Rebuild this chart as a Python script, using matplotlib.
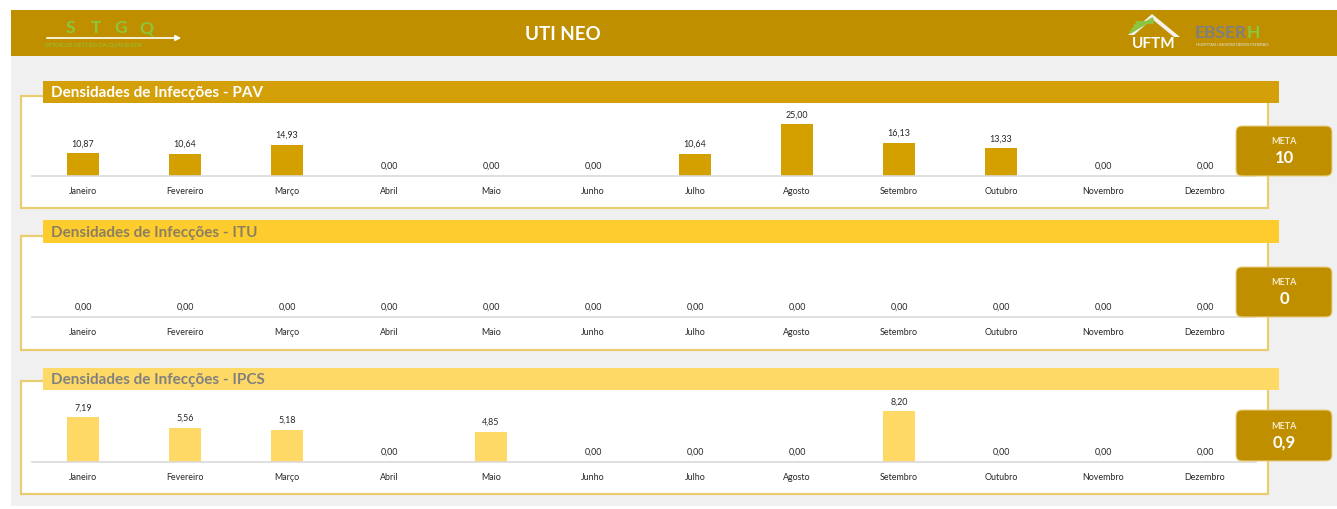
import matplotlib
matplotlib.use("Agg")
import matplotlib.pyplot as plt
from matplotlib.patches import Rectangle, FancyBboxPatch, Polygon
import numpy as np

months = ["Janeiro", "Fevereiro", "Março", "Abril", "Maio", "Junho", "Julho",
          "Agosto", "Setembro", "Outubro", "Novembro", "Dezembro"]
pav = [10.87, 10.64, 14.93, 0.00, 0.00, 0.00, 10.64, 25.00, 16.13, 13.33, 0.00, 0.00]
itu = [0.00] * 12
ipcs = [7.19, 5.56, 5.18, 0.00, 4.85, 0.00, 0.00, 0.00, 8.20, 0.00, 0.00, 0.00]
titles = ["Densidades de Infecções - PAV", "Densidades de Infecções - ITU",
          "Densidades de Infecções - IPCS"]
metas = ["10", "0", "0,9"]
header_title = "UTI NEO"

plt.rcParams['font.family'] = ['Lato', 'DejaVu Sans']

W, H = 1337, 510
fig = plt.figure(figsize=(W / 100, H / 100), dpi=100)
fig.patch.set_facecolor("white")

bg = fig.add_axes([0, 0, 1, 1])
bg.set_xlim(0, W)
bg.set_ylim(H, 0)
bg.axis("off")

HEADER = "#BF8F00"
GREY = "#F0F0F0"

# background and header
bg.add_patch(Rectangle((11, 57), W - 11, 450, facecolor=GREY, edgecolor="none"))
bg.add_patch(Rectangle((11, 11), W - 11, 46, facecolor=HEADER, edgecolor="none"))
bg.text(563, 34, header_title, color="white", fontsize=13.5, fontweight="bold",
        ha="center", va="center")

# STGQ logo
for i, ch in enumerate("STGQ"):
    bg.text(70 + i * 25.5, 28, ch, color="#8CC63F", fontsize=12.5, fontweight="bold",
            ha="center", va="center")
bg.annotate("", xy=(184, 39), xytext=(44, 39),
            arrowprops=dict(arrowstyle="-|>", color="white", lw=1.2, mutation_scale=8))
bg.text(45, 45.5, "SETOR DE GESTÃO DA QUALIDADE", color="#8CC63F", fontsize=4.2,
        ha="left", va="center")

# UFTM logo
roof = Polygon([[1128, 36], [1152, 15], [1180, 38], [1174, 38], [1152, 20], [1134, 36]],
               closed=True, facecolor="#F2F2F2", edgecolor="none")
bg.add_patch(roof)
for k in range(4):
    bg.plot([1131 + k * 2, 1152], [33 - k * 3.2, 20 + k * 1.2], color="#8CC63F", lw=2)
bg.text(1154, 44, "UFTM", color="white", fontsize=11, fontweight="bold",
        ha="center", va="center")
# EBSERH logo
t_eb = bg.text(1195, 33, "EBSER", color="#7F7F7F", fontsize=12.5, fontweight="bold",
               ha="left", va="center")
fig.canvas.draw()
ext = t_eb.get_window_extent()
x_end = bg.transData.inverted().transform((ext.x1, ext.y0))[0]
bg.text(x_end, 33, "H", color="#8CC63F", fontsize=12.5, fontweight="bold",
        ha="left", va="center")
bg.text(1196, 45, "HOSPITAIS UNIVERSITÁRIOS FEDERAIS", color="#E6E6E6", fontsize=2.9,
        ha="left", va="center")

# panels
panel_cfg = [
    dict(bt=97, bb=209, tt=82, tb=104, tcol="#D4A00A", txt="white", base=177, top=108,
         mt=127, mb=177, bar="#D4A000", scale=2.07),
    dict(bt=237, bb=351, tt=221, tb=244, tcol="#FFCC2E", txt="#8A8060", base=318, top=250,
         mt=268, mb=318, bar="#FFCC2E", scale=2.07),
    dict(bt=382, bb=495, tt=369, tb=391, tcol="#FFD966", txt="#808080", base=463, top=395,
         mt=411, mb=462, bar="#FFD966", scale=6.2),
]
data = [pav, itu, ipcs]

AX_L, AX_R = 32, 1256

for cfg, vals, title in zip(panel_cfg, data, titles):
    bg.add_patch(Rectangle((21, cfg["bt"]), 1268 - 21, cfg["bb"] - cfg["bt"],
                           facecolor="white", edgecolor="#EACD70", lw=1.6))
    bg.add_patch(Rectangle((43, cfg["tt"]), 1279 - 43, cfg["tb"] - cfg["tt"],
                           facecolor=cfg["tcol"], edgecolor="none"))
    bg.text(51, (cfg["tt"] + cfg["tb"]) / 2 + 0.5, title, color=cfg["txt"], fontsize=11,
            fontweight="bold", ha="left", va="center")

    ax = fig.add_axes([AX_L / W, 1 - cfg["base"] / H, (AX_R - AX_L) / W,
                       (cfg["base"] - cfg["top"]) / H])
    ax.set_facecolor("none")
    x = np.arange(len(months))
    ax.bar(x, vals, width=0.31, color=cfg["bar"])
    ax.set_xlim(-0.5, len(months) - 0.5)
    ax.set_ylim(0, (cfg["base"] - cfg["top"]) / cfg["scale"])
    for s in ["top", "right", "left"]:
        ax.spines[s].set_visible(False)
    ax.spines["bottom"].set_color("#D9D9D9")
    ax.spines["bottom"].set_linewidth(1.2)
    ax.set_yticks([])
    ax.set_xticks(x)
    ax.set_xticklabels(months, fontsize=6.4, color="#262626")
    ax.tick_params(axis="x", length=0, pad=7)
    for xi, v in zip(x, vals):
        ax.annotate(f"{v:.2f}".replace(".", ","), (xi, v), xytext=(0, 7.5),
                    textcoords="offset points", ha="center", va="center",
                    fontsize=6.4, color="#262626", annotation_clip=False)

# overlay for META boxes (above chart axes)
ov = fig.add_axes([0, 0, 1, 1])
ov.set_xlim(0, W)
ov.set_ylim(H, 0)
ov.axis("off")
ov.set_facecolor("none")
for cfg, meta in zip(panel_cfg, metas):
    mb = FancyBboxPatch((1236, cfg["mt"]), 1332 - 1236, cfg["mb"] - cfg["mt"],
                        boxstyle="round,pad=0,rounding_size=6",
                        facecolor=HEADER, edgecolor="#E8D08A", lw=0.8)
    ov.add_patch(mb)
    cy = (cfg["mt"] + cfg["mb"]) / 2
    ov.text(1284, cy - 10, "META", color="#F7EBC8", fontsize=6.5, fontweight="bold",
            ha="center", va="center")
    ov.text(1284, cy + 6, meta, color="white", fontsize=12, fontweight="bold",
            ha="center", va="center")

fig.savefig("out.png", dpi=100)
